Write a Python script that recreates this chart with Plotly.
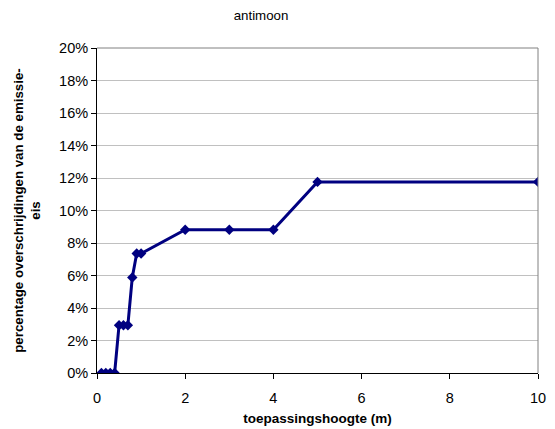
import plotly.graph_objects as go

heights = [0.1, 0.2, 0.3, 0.4, 0.5, 0.6, 0.7, 0.8, 0.9, 1.0, 2, 3, 4, 5, 10]
exceed = [0, 0, 0, 0, 0.0294, 0.0294, 0.0294, 0.0588, 0.0735, 0.0735,
          0.0882, 0.0882, 0.0882, 0.1176, 0.1176]

fig = go.Figure()
fig.add_trace(go.Scatter(
    x=heights, y=exceed, mode="lines+markers",
    line=dict(color="#000080", width=3),
    marker=dict(symbol="diamond", size=8, color="#000080"),
    showlegend=False,
))

font = "Liberation Sans, Arial, sans-serif"
fig.update_layout(
    width=555, height=429,
    margin=dict(l=97, r=17, t=48, b=56),
    paper_bgcolor="white", plot_bgcolor="white",
    font=dict(family=font, size=14.5, color="black"),
    title=dict(text="antimoon", x=261/555, xanchor="center", y=1-15/429, yanchor="middle",
               font=dict(size=13.3, family=font)),
    xaxis=dict(range=[0, 10], tickvals=[0, 2, 4, 6, 8, 10], showgrid=False,
               showline=True, linecolor="black", linewidth=1,
               ticks="outside", ticklen=5, tickcolor="black", zeroline=False,
               ticklabelstandoff=7, automargin=False,
               title=dict(text="<b>toepassingshoogte (m)</b>", font=dict(size=13.5), standoff=8)),
    yaxis=dict(range=[0, 0.2], tickvals=[i/50 for i in range(11)], tickformat=".0%",
               showgrid=True, gridcolor="#c0c0c0", gridwidth=1,
               showline=True, linecolor="black", linewidth=1,
               ticks="outside", ticklen=5, tickcolor="black", zeroline=False,
               automargin=False,
               title=dict(text="<b>percentage overschrijdingen van de emissie-<br>eis</b>",
                          font=dict(size=13.3), standoff=15)),
)
fig.add_shape(type="line", xref="paper", yref="paper", x0=1, x1=1, y0=0, y1=1,
              line=dict(color="#808080", width=1))
fig.add_shape(type="line", xref="paper", yref="paper", x0=0, x1=1, y0=1, y1=1,
              line=dict(color="#808080", width=1))
fig.write_html("out.html")
